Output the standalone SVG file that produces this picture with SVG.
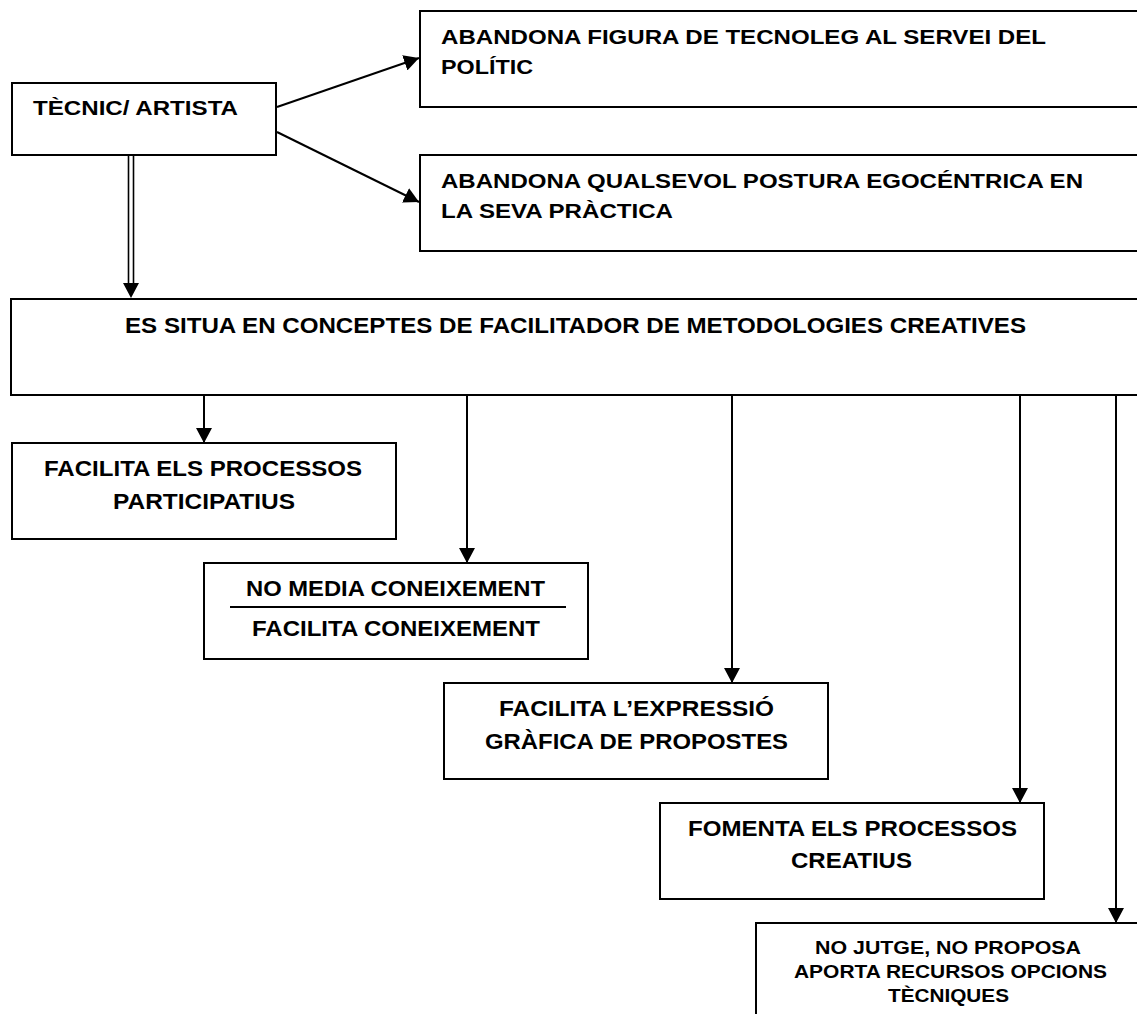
<svg xmlns="http://www.w3.org/2000/svg" width="1137" height="1014" viewBox="0 0 1137 1014">
  <style>
    .box { fill: #ffffff; stroke: #000000; stroke-width: 2; }
    .t { font-family: "Liberation Sans", Arial, sans-serif; font-weight: bold; fill: #000000; }
    .t21 { font-size: 21px; }
    .t22 { font-size: 22px; }
    .t19 { font-size: 19px; }
    .conn { stroke: #000000; stroke-width: 2; fill: none; }
  </style>
  <defs>
    <marker id="arrow" viewBox="0 0 15 16" refX="15" refY="8" markerWidth="15" markerHeight="16" markerUnits="userSpaceOnUse" orient="auto">
      <path d="M0,0 L15,8 L0,16 z" fill="#000000"/>
    </marker>
  </defs>
  <rect width="1137" height="1014" fill="#ffffff"/>

  <g id="tecnic">
    <rect class="box" x="12" y="83" width="264" height="72"/>
    <text class="t t21" x="33" y="115" textLength="205" lengthAdjust="spacingAndGlyphs">TÈCNIC/ ARTISTA</text>
  </g>

  <g id="abandona-figura">
    <rect class="box" x="420" y="11" width="730" height="96"/>
    <text class="t t21" x="441" y="44" textLength="605" lengthAdjust="spacingAndGlyphs">ABANDONA FIGURA DE TECNOLEG AL SERVEI DEL</text>
    <text class="t t21" x="441" y="74" textLength="92" lengthAdjust="spacingAndGlyphs">POLÍTIC</text>
  </g>

  <g id="abandona-postura">
    <rect class="box" x="420" y="155" width="730" height="96"/>
    <text class="t t21" x="441" y="188" textLength="642" lengthAdjust="spacingAndGlyphs">ABANDONA QUALSEVOL POSTURA EGOCÉNTRICA EN</text>
    <text class="t t21" x="441" y="218" textLength="232" lengthAdjust="spacingAndGlyphs">LA SEVA PRÀCTICA</text>
  </g>

  <g id="es-situa">
    <rect class="box" x="11" y="299" width="1140" height="96"/>
    <text class="t t22" x="125" y="333" textLength="901" lengthAdjust="spacingAndGlyphs">ES SITUA EN CONCEPTES DE FACILITADOR DE METODOLOGIES CREATIVES</text>
  </g>

  <g id="facilita-participatius">
    <rect class="box" x="12" y="443" width="384" height="96"/>
    <text class="t t22" x="44" y="476" textLength="318" lengthAdjust="spacingAndGlyphs">FACILITA ELS PROCESSOS</text>
    <text class="t t22" x="113" y="509" textLength="182" lengthAdjust="spacingAndGlyphs">PARTICIPATIUS</text>
  </g>

  <g id="coneixement">
    <rect class="box" x="204" y="563" width="384" height="96"/>
    <text class="t t22" x="246" y="596" textLength="299" lengthAdjust="spacingAndGlyphs">NO MEDIA CONEIXEMENT</text>
    <line x1="230" y1="607" x2="566" y2="607" stroke="#000000" stroke-width="2"/>
    <text class="t t22" x="252" y="636" textLength="288" lengthAdjust="spacingAndGlyphs">FACILITA CONEIXEMENT</text>
  </g>

  <g id="expressio">
    <rect class="box" x="444" y="683" width="384" height="96"/>
    <text class="t t22" x="499" y="716" textLength="275" lengthAdjust="spacingAndGlyphs">FACILITA L’EXPRESSIÓ</text>
    <text class="t t22" x="485" y="749" textLength="303" lengthAdjust="spacingAndGlyphs">GRÀFICA DE PROPOSTES</text>
  </g>

  <g id="creatius">
    <rect class="box" x="660" y="803" width="384" height="96"/>
    <text class="t t22" x="688" y="836" textLength="329" lengthAdjust="spacingAndGlyphs">FOMENTA ELS PROCESSOS</text>
    <text class="t t22" x="791" y="868" textLength="121" lengthAdjust="spacingAndGlyphs">CREATIUS</text>
  </g>

  <g id="no-jutge">
    <rect class="box" x="756" y="923" width="400" height="100"/>
    <text class="t t19" x="815" y="954" textLength="266" lengthAdjust="spacingAndGlyphs">NO JUTGE, NO PROPOSA</text>
    <text class="t t19" x="794" y="978" textLength="313" lengthAdjust="spacingAndGlyphs">APORTA RECURSOS OPCIONS</text>
    <text class="t t19" x="888" y="1002" textLength="121" lengthAdjust="spacingAndGlyphs">TÈCNIQUES</text>
  </g>

  <g id="connectors">
    <line class="conn" x1="277" y1="107" x2="419" y2="58" marker-end="url(#arrow)"/>
    <line class="conn" x1="277" y1="132" x2="419" y2="202" marker-end="url(#arrow)"/>
    <line x1="128.5" y1="155" x2="128.5" y2="285" stroke="#000000" stroke-width="1.6"/>
    <line x1="133.5" y1="155" x2="133.5" y2="285" stroke="#000000" stroke-width="1.6"/>
    <polygon points="123,283 139,283 131,298" fill="#000000"/>
    <line class="conn" x1="204" y1="395" x2="204" y2="443" marker-end="url(#arrow)"/>
    <line class="conn" x1="467" y1="395" x2="467" y2="563" marker-end="url(#arrow)"/>
    <line class="conn" x1="732" y1="395" x2="732" y2="683" marker-end="url(#arrow)"/>
    <line class="conn" x1="1020" y1="395" x2="1020" y2="803" marker-end="url(#arrow)"/>
    <line class="conn" x1="1116" y1="395" x2="1116" y2="923" marker-end="url(#arrow)"/>
  </g>
</svg>
